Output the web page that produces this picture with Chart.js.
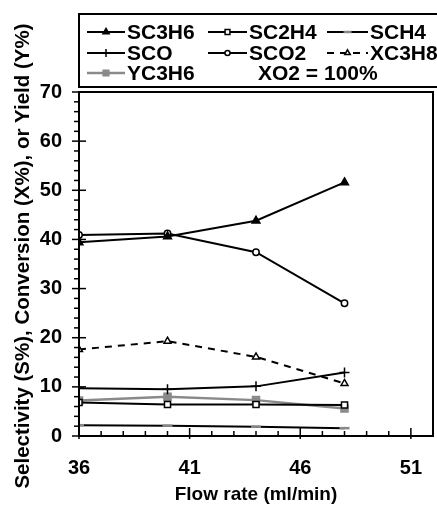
<!DOCTYPE html>
<html>
<head>
<meta charset="utf-8">
<script src="https://cdn.jsdelivr.net/npm/chart.js@4.4.1/dist/chart.umd.min.js"></script>
<style>
html, body { margin: 0; padding: 0; background: #fff; }
</style>
</head>
<body>
<canvas id="chartFlow" width="437" height="512"></canvas>
<script>
// flow rate (ml/min) and the series
var flowRate = [36, 40, 44, 48];
var sc3h6 = [39.4, 40.6, 43.8, 51.6];
var sc2h4 = [6.8, 6.4, 6.4, 6.3];
var sch4 = [2.2, 2.1, 1.9, 1.6];
var sco = [9.7, 9.5, 10.1, 12.9];
var sco2 = [40.9, 41.2, 37.4, 27.0];
var xc3h8 = [17.6, 19.3, 16.1, 10.7];
var yc3h6 = [7.2, 8.0, 7.3, 5.6];
var xTickLabels = [36, 41, 46, 51];
var yTickLabels = [0, 10, 20, 30, 40, 50, 60, 70];
var noteText = 'XO2 = 100%';

var FONT = "'Liberation Sans', Arial, sans-serif";
Chart.defaults.font.family = FONT;
Chart.defaults.color = '#000';

function series(label, values, opts) {
    var ds = {
        label: label,
        data: flowRate.map(function (x, i) { return { x: x, y: values[i] }; }),
        borderColor: '#000',
        borderWidth: 2,
        pointRadius: 3.5,
        pointBorderWidth: 1.5,
        pointBorderColor: '#000',
        pointBackgroundColor: '#000',
        tension: 0,
        fill: false
    };
    for (var k in opts) ds[k] = opts[k];
    return ds;
}

var datasets = [
    series('SC3H6', sc3h6, { pointStyle: 'triangle', pointRadius: 4.5 }),
    series('SC2H4', sc2h4, { pointStyle: 'rect', pointRadius: 4.3, pointBackgroundColor: '#fff' }),
    series('SCH4', sch4, { pointStyle: 'line', pointRadius: 5, pointBorderColor: '#888', pointBorderWidth: 2.5 }),
    series('SCO', sco, { pointStyle: 'cross', pointRadius: 5 }),
    series('SCO2', sco2, { pointStyle: 'circle', pointRadius: 3.2, pointBackgroundColor: '#fff' }),
    series('XC3H8', xc3h8, { pointStyle: 'triangle', pointRadius: 4, pointBackgroundColor: '#fff', borderDash: [7, 6] }),
    series('YC3H6', yc3h6, { pointStyle: 'rect', pointRadius: 5, borderColor: '#8a8a8a', pointBorderColor: '#8a8a8a', pointBackgroundColor: '#8a8a8a', borderWidth: 2.5 })
];

// legend box, frame, ticks and y title
var frame = {
    id: 'frame',
    afterDraw: function (chart) {
        var ctx = chart.ctx, a = chart.chartArea;
        var xs = chart.scales.x, ys = chart.scales.y;
        ctx.save();
        ctx.strokeStyle = '#000';
        ctx.lineWidth = 2;
        ctx.strokeRect(a.left, a.top, a.right - a.left, a.bottom - a.top);

        ctx.lineWidth = 1.5;
        ys.ticks.forEach(function (t) {
            var y = ys.getPixelForValue(t.value);
            var major = yTickLabels.indexOf(t.value) >= 0;
            ctx.beginPath();
            ctx.moveTo(a.left - (major ? 7 : 5), y);
            ctx.lineTo(a.left + (major ? 7 : 0), y);
            ctx.stroke();
        });
        xs.ticks.forEach(function (t) {
            var x = xs.getPixelForValue(t.value);
            var major = xTickLabels.indexOf(t.value) >= 0;
            ctx.beginPath();
            ctx.moveTo(x, a.bottom + (major ? 3 : 0));
            ctx.lineTo(x, a.bottom - (major ? 8 : 5));
            ctx.stroke();
        });

        // y title
        ctx.save();
        ctx.translate(23, 256);
        ctx.rotate(-Math.PI / 2);
        ctx.font = 'bold 20.5px ' + FONT;
        ctx.textAlign = 'center';
        ctx.textBaseline = 'middle';
        ctx.fillStyle = '#000';
        ctx.fillText('Selectivity (S%), Conversion (X%), or Yield (Y%)', 0, 0);
        ctx.restore();

        // legend
        ctx.lineWidth = 2;
        ctx.strokeRect(79, 14, 370, 73);
        var cols = [[87, 125, 127], [208, 247, 249], [327, 368, 370]];
        var rows = [32, 53, 73];
        ctx.font = 'bold 21px ' + FONT;
        ctx.textAlign = 'left';
        ctx.textBaseline = 'middle';
        chart.data.datasets.forEach(function (ds, i) {
            var c = cols[i % 3], y = rows[Math.floor(i / 3)];
            ctx.save();
            ctx.strokeStyle = ds.borderColor;
            ctx.lineWidth = ds.borderWidth;
            ctx.setLineDash(ds.borderDash || []);
            ctx.beginPath();
            ctx.moveTo(c[0], y);
            ctx.lineTo(c[1], y);
            ctx.stroke();
            ctx.setLineDash([]);
            ctx.strokeStyle = ds.pointBorderColor;
            ctx.fillStyle = ds.pointBackgroundColor;
            ctx.lineWidth = ds.pointBorderWidth;
            Chart.helpers.drawPoint(ctx, {
                pointStyle: ds.pointStyle, radius: ds.pointRadius * 0.8,
                rotation: 0, borderWidth: ds.pointBorderWidth
            }, (c[0] + c[1]) / 2, y);
            ctx.restore();
            ctx.fillStyle = '#000';
            ctx.fillText(ds.label, c[2], y + 1);
        });
        ctx.fillText(noteText, 258, rows[2] + 1);
        ctx.restore();
    }
};

var ctx = document.getElementById('chartFlow').getContext('2d');
var chart = new Chart(ctx, {
    type: 'line',
    data: { datasets: datasets },
    options: {
        responsive: false,
        animation: false,
        devicePixelRatio: 1,
        layout: { autoPadding: false, padding: { top: 92, right: 4, bottom: 0, left: 0 } },
        plugins: { legend: { display: false }, tooltip: { enabled: false } },
        scales: {
            x: {
                type: 'linear',
                min: 36,
                max: 52,
                afterFit: function (s) {
                    s.height = 76;
                    s.paddingLeft = 0;
                    s.paddingRight = 0;
                },
                grid: { drawOnChartArea: false, drawTicks: false },
                border: { display: false },
                ticks: {
                    stepSize: 1,
                    autoSkip: false,
                    maxRotation: 0,
                    padding: 20,
                    font: { size: 20, weight: 'bold' },
                    callback: function (v) { return xTickLabels.indexOf(v) >= 0 ? String(v) : ''; }
                },
                title: {
                    display: true,
                    text: 'Flow rate (ml/min)',
                    font: { size: 19, weight: 'bold' },
                    padding: { top: 0, bottom: 6 }
                }
            },
            y: {
                min: 0,
                max: 70,
                afterFit: function (s) {
                    s.width = 79;
                    s.paddingTop = 0;
                    s.paddingBottom = 0;
                },
                grid: { drawOnChartArea: false, drawTicks: false },
                border: { display: false },
                ticks: {
                    stepSize: 2,
                    autoSkip: false,
                    padding: 17,
                    font: { size: 20, weight: 'bold' },
                    callback: function (v) { return yTickLabels.indexOf(v) >= 0 ? String(v) : ''; }
                }
            }
        }
    },
    plugins: [frame]
});
</script>
</body>
</html>
